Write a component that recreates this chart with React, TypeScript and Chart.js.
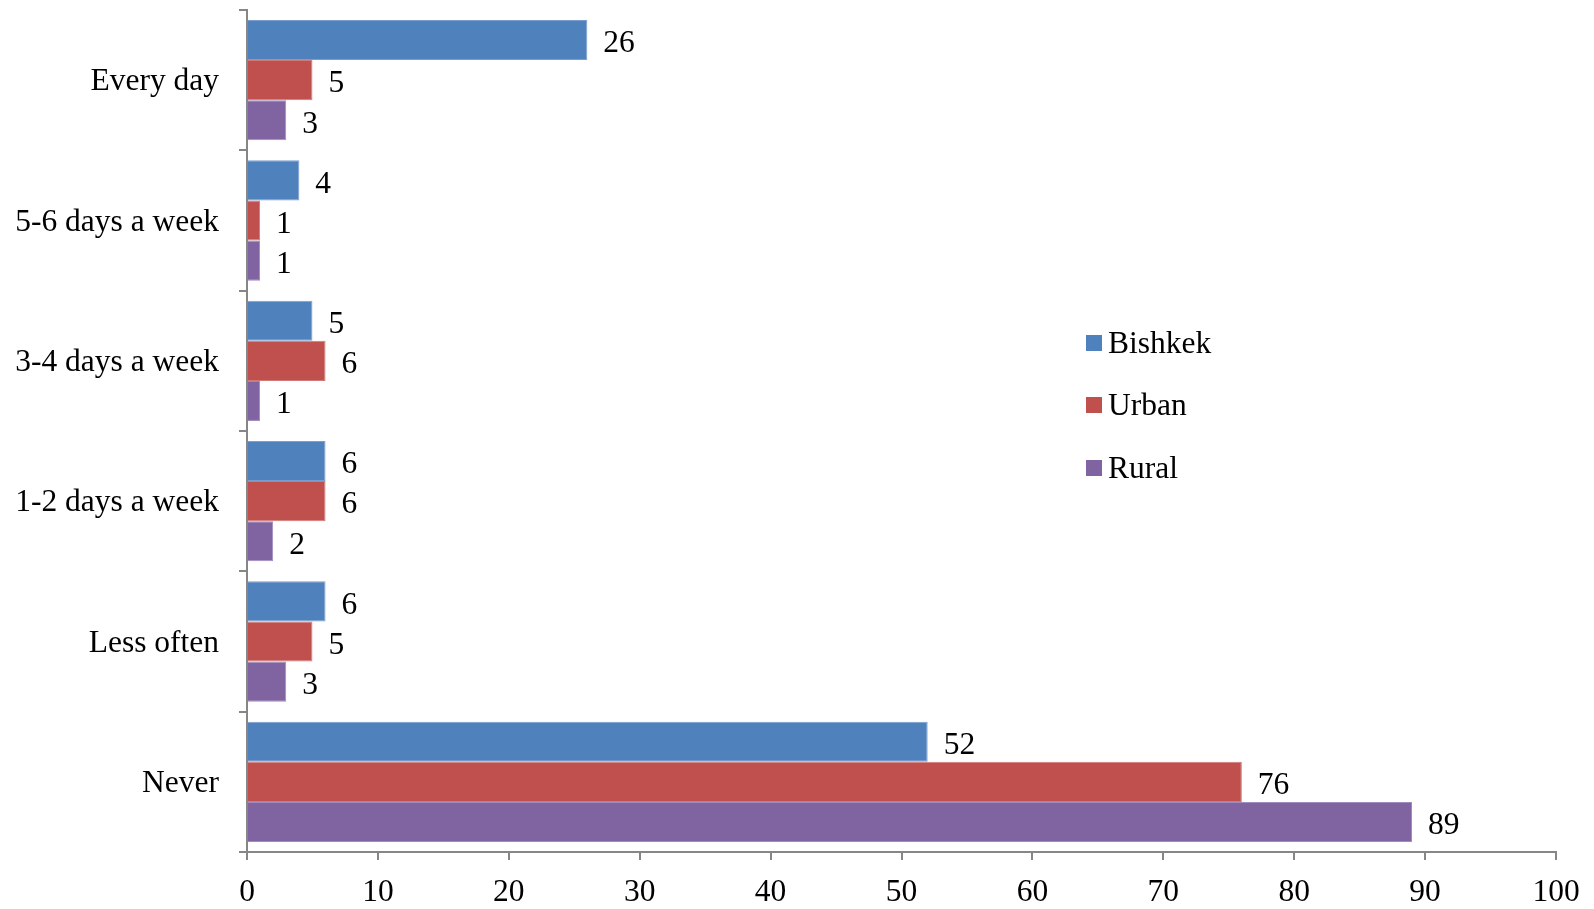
import React, { useEffect, useRef } from "react";
import { Chart, registerables } from "chart.js";

Chart.register(...registerables);

const categories = ["Every day", "5-6 days a week", "3-4 days a week", "1-2 days a week", "Less often", "Never"];
const bishkek = [26, 4, 5, 6, 6, 52];
const urban = [5, 1, 6, 6, 5, 76];
const rural = [3, 1, 1, 2, 3, 89];
const seriesNames = ["Bishkek", "Urban", "Rural"];
const seriesColors = ["#4F81BD", "#C0504D", "#8064A2"];
const seriesBorders = ["#7A9FCF", "#D07A78", "#A28BBD"];
const xTicks = { min: 0, max: 100, step: 10 };

const FONT = '"Liberation Serif", "Times New Roman", serif';
const FS = 31.5;
const AXIS = "#868686";

const valueLabels = {
  id: "valueLabels",
  afterDatasetsDraw(chart: any) {
    const ctx = chart.ctx;
    ctx.save();
    ctx.font = `${FS}px ${FONT}`;
    ctx.fillStyle = "#000";
    ctx.textAlign = "left";
    ctx.textBaseline = "middle";
    chart.data.datasets.forEach((ds: any, i: number) => {
      const meta = chart.getDatasetMeta(i);
      meta.data.forEach((bar: any, j: number) => {
        ctx.fillText(String(ds.data[j]), bar.x + 16, bar.y + 4);
      });
    });
    ctx.restore();
  },
};

const sideLegend = {
  id: "sideLegend",
  afterDraw(chart: any) {
    const ctx = chart.ctx;
    const x0 = 1086;
    const ys = [343, 405, 468];
    ctx.save();
    ctx.font = `${FS}px ${FONT}`;
    ctx.textBaseline = "middle";
    ctx.textAlign = "left";
    chart.data.datasets.forEach((ds: any, i: number) => {
      ctx.fillStyle = ds.backgroundColor;
      ctx.fillRect(x0, ys[i] - 8, 16, 16);
      ctx.fillStyle = "#000";
      ctx.fillText(ds.label, x0 + 22, ys[i] + 2);
    });
    ctx.restore();
  },
};

export default function App() {
  const ref = useRef<HTMLCanvasElement>(null);
  useEffect(() => {
    document.body.style.margin = "0";
    const values = [bishkek, urban, rural];
    const chart = new Chart(ref.current!, {
      type: "bar",
      data: {
        labels: categories,
        datasets: seriesNames.map((name, i) => ({
          label: name,
          data: values[i],
          backgroundColor: seriesColors[i],
          borderColor: seriesBorders[i],
          borderWidth: 1,
          barPercentage: 1,
          categoryPercentage: 0.857,
        })),
      },
      options: {
        indexAxis: "y",
        animation: false,
        responsive: false,
        maintainAspectRatio: false,
        layout: { padding: { top: 10, right: 38, left: 0, bottom: 0 } },
        plugins: { legend: { display: false }, tooltip: { enabled: false } },
        scales: {
          x: {
            min: xTicks.min,
            max: xTicks.max,
            ticks: { stepSize: xTicks.step, color: "#000", font: { family: FONT, size: FS }, padding: 14 },
            grid: { drawOnChartArea: false, drawTicks: true, tickLength: 8, color: AXIS, lineWidth: 2 },
            border: { color: AXIS, width: 2 },
            afterFit(scale: any) {
              scale.height = 57;
              scale.paddingLeft = 0;
              scale.paddingRight = 0;
            },
          },
          y: {
            ticks: { color: "#000", font: { family: FONT, size: FS }, padding: 20, labelOffset: 2 },
            grid: { drawOnChartArea: false, drawTicks: true, tickLength: 8, color: AXIS, lineWidth: 2, offset: true },
            border: { color: AXIS, width: 2 },
            afterFit(scale: any) {
              scale.width = 247;
              scale.paddingTop = 0;
              scale.paddingBottom = 0;
            },
          },
        },
      },
      plugins: [valueLabels, sideLegend],
    });
    return () => chart.destroy();
  }, []);
  return <canvas ref={ref} width={1594} height={909} style={{ display: "block" }} />;
}
